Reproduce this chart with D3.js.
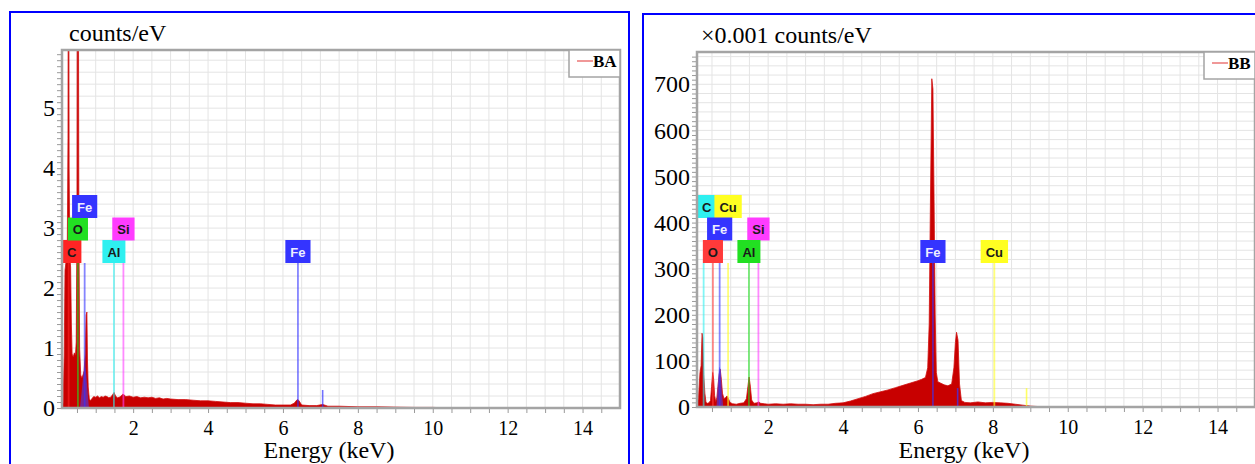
<!DOCTYPE html>
<html>
<head>
<meta charset="utf-8">
<script src="https://cdn.jsdelivr.net/npm/d3@7"></script>
<style>
  body { margin: 0; background: #fff; }
  text { font-family: "Liberation Serif", "Times New Roman", serif; }
</style>
</head>
<body>
<svg id="chart" width="1255" height="464"></svg>
<script>
// ---- data ----
const xTicks = [2, 4, 6, 8, 10, 12, 14];
const baYTicks = [0, 1, 2, 3, 4, 5];
const bbYTicks = [0, 100, 200, 300, 400, 500, 600, 700];

// BA spectrum (counts/eV)
const baEnergy = [0.10, 0.13, 0.16, 0.18, 0.21, 0.24, 0.26, 0.27, 0.28, 0.29, 0.31, 0.33, 0.35, 0.37,
  0.40, 0.43, 0.46, 0.48, 0.50, 0.51, 0.535, 0.55, 0.57, 0.60, 0.63, 0.66, 0.69, 0.72, 0.745, 0.765,
  0.78, 0.80, 0.83, 0.86, 0.90, 0.95, 1.00, 1.05, 1.10, 1.15, 1.20, 1.25, 1.30, 1.35, 1.40, 1.45,
  1.49, 1.53, 1.58, 1.63, 1.68, 1.72, 1.76, 1.80, 1.90, 2.00, 2.10, 2.20, 2.30, 2.40, 2.50, 2.60,
  2.70, 2.80, 2.90, 3.00, 3.20, 3.40, 3.60, 3.80, 4.00, 4.20, 4.40, 4.60, 4.80, 5.00, 5.20, 5.40,
  5.60, 5.80, 6.00, 6.20, 6.30, 6.38, 6.42, 6.50, 6.70, 6.90, 7.06, 7.20, 7.50, 8.00, 8.50, 9.00,
  9.50, 10.00, 10.50, 15.00];
const baCounts = [0.05, 0.08, 0.9, 2.3, 2.45, 2.6, 4.5, 8.5, 8.5, 4.0, 2.5, 2.35, 1.4, 0.9,
  0.85, 0.92, 0.88, 1.1, 3.0, 8.5, 8.5, 3.2, 1.0, 0.55, 0.5, 0.55, 0.62, 0.9, 1.55, 1.6,
  0.8, 0.35, 0.15, 0.12, 0.16, 0.19, 0.18, 0.2, 0.17, 0.19, 0.18, 0.2, 0.19, 0.17, 0.18, 0.22,
  0.26, 0.2, 0.17, 0.18, 0.2, 0.23, 0.22, 0.19, 0.2, 0.18, 0.19, 0.17, 0.18, 0.17, 0.18, 0.16,
  0.17, 0.15, 0.16, 0.15, 0.14, 0.14, 0.13, 0.12, 0.12, 0.11, 0.1, 0.09, 0.09, 0.08, 0.07, 0.07,
  0.06, 0.05, 0.05, 0.05, 0.08, 0.14, 0.13, 0.05, 0.04, 0.04, 0.06, 0.03, 0.03, 0.02, 0.02, 0.015,
  0.01, 0.01, 0, 0];

// BB spectrum (x0.001 counts/eV)
const bbEnergy = [0.10, 0.14, 0.18, 0.21, 0.235, 0.255, 0.28, 0.31, 0.34, 0.38, 0.42, 0.46, 0.49,
  0.52, 0.545, 0.57, 0.60, 0.63, 0.66, 0.69, 0.72, 0.75, 0.78, 0.82, 0.86, 0.90, 0.94, 0.98, 1.05,
  1.15, 1.25, 1.35, 1.42, 1.46, 1.49, 1.52, 1.56, 1.62, 1.70, 1.75, 1.80, 1.90, 2.00, 2.20, 2.40,
  2.60, 2.80, 3.00, 3.20, 3.40, 3.60, 3.80, 4.00, 4.20, 4.40, 4.60, 4.80, 5.00, 5.20, 5.40, 5.60,
  5.80, 6.00, 6.10, 6.20, 6.26, 6.30, 6.33, 6.37, 6.40, 6.43, 6.46, 6.49, 6.53, 6.60, 6.70, 6.80,
  6.90, 6.96, 7.00, 7.03, 7.07, 7.11, 7.16, 7.25, 7.40, 7.60, 7.80, 8.00, 8.20, 8.40, 8.60, 8.80,
  9.00, 9.20, 9.60, 10.00, 15.00];
const bbCounts = [4, 20, 75, 90, 160, 150, 70, 30, 10, 8, 9, 14, 45,
  75, 60, 25, 12, 20, 45, 70, 82, 60, 30, 18, 20, 24, 18, 10, 7,
  6, 8, 9, 18, 45, 65, 48, 15, 8, 9, 11, 8, 7, 6, 7, 6,
  7, 6, 6, 5, 6, 6, 8, 9, 13, 18, 23, 29, 33, 37, 42, 47,
  52, 57, 60, 64, 85, 180, 420, 712, 690, 450, 200, 75, 55, 52, 48, 46,
  50, 85, 140, 162, 145, 50, 14, 10, 9, 11, 9, 10, 9, 8, 6, 4,
  2, 1, 1, 0, 0];

// fitted Fe L overlays
const baFitEnergy = [0.58, 0.63, 0.68, 0.71, 0.74, 0.78, 0.82];
const baFitCounts = [0, 0.3, 0.6, 0.68, 0.6, 0.3, 0];
const bbFitEnergy = [0.62, 0.66, 0.70, 0.73, 0.76, 0.80];
const bbFitCounts = [0, 55, 87, 80, 40, 0];

// element marker lines (label, keV)
const baElements = ['C', 'O', 'Fe', 'Al', 'Si', 'Fe'];
const baLineEnergy = [0.277, 0.525, 0.705, 1.486, 1.740, 6.400];
const bbElements = ['C', 'Cu', 'Fe', 'Si', 'O', 'Al', 'Fe', 'Cu'];
const bbLineEnergy = [0.277, 0.930, 0.705, 1.740, 0.525, 1.486, 6.400, 8.040];

// short K-beta markers
const baKbElements = ['Fe'];
const baKbEnergy = [7.06];
const baKbCounts = [0.3];
const bbKbElements = ['Fe', 'Cu'];
const bbKbEnergy = [7.06, 8.90];
const bbKbCounts = [41, 41];

// ---- layout / style ----
const panels = [
  {
    name: 'BA', box: [10, 12, 619, 470],
    left: 62, top: 50, right: 620, bottom: 408,
    yMax: 5.97, yTicks: baYTicks, yMinor: 0.1, yGrid: 0.2,
    title: 'counts/eV', titleX: 69, titleY: 41,
    energy: baEnergy, counts: baCounts,
    fitE: baFitEnergy, fitC: baFitCounts,
    elements: baElements, lineE: baLineEnergy, rows: [0, 1, 2, 0, 1, 0],
    kbEl: baKbElements, kbE: baKbEnergy, kbC: baKbCounts,
    colors: { C: '#ff2424', O: '#22e022', Fe: '#3434ff', Al: '#2ef0f0', Si: '#ff3cff' }
  },
  {
    name: 'BB', box: [643, 14, 640, 470],
    left: 697, top: 52, right: 1255, bottom: 407,
    yMax: 770, yTicks: bbYTicks, yMinor: 10, yGrid: 20,
    title: '\u00d70.001 counts/eV', titleX: 701, titleY: 43,
    energy: bbEnergy, counts: bbCounts,
    fitE: bbFitEnergy, fitC: bbFitCounts,
    elements: bbElements, lineE: bbLineEnergy, rows: [2, 2, 1, 1, 0, 0, 0, 0],
    kbEl: bbKbElements, kbE: bbKbEnergy, kbC: bbKbCounts,
    colors: { C: '#2ef0f0', O: '#ff3a3a', Fe: '#3434ff', Al: '#22e022', Si: '#ff3cff', Cu: '#ffff22' }
  }
];

const serif = '"Liberation Serif", "Times New Roman", serif';
const svg = d3.select('#chart');
const defs = svg.append('defs');

panels.forEach((p, i) => {
  const g = svg.append('g');

  // outer blue frame
  g.append('rect')
    .attr('x', p.box[0]).attr('y', p.box[1])
    .attr('width', p.box[2]).attr('height', p.box[3])
    .attr('fill', 'none').attr('stroke', '#0000ff').attr('stroke-width', 2);

  const x = d3.scaleLinear().domain([0.1, 15]).range([p.left, p.right]);
  const y = d3.scaleLinear().domain([0, p.yMax]).range([p.bottom, p.top]);

  // grid
  const grid = g.append('g').attr('stroke', '#e4e4e4').attr('stroke-width', 1);
  grid.selectAll('line.v')
    .data(d3.range(0.5, 15, 0.5))
    .join('line')
    .attr('class', 'v')
    .attr('x1', (d) => x(d)).attr('x2', (d) => x(d))
    .attr('y1', p.top).attr('y2', p.bottom);
  grid.selectAll('line.h')
    .data(d3.range(p.yGrid, p.yMax, p.yGrid))
    .join('line')
    .attr('class', 'h')
    .attr('x1', p.left).attr('x2', p.right)
    .attr('y1', (d) => y(d)).attr('y2', (d) => y(d));

  // clip for the marks
  const clipId = 'plotclip' + i;
  defs.append('clipPath').attr('id', clipId)
    .append('rect')
    .attr('x', p.left).attr('y', p.top)
    .attr('width', p.right - p.left).attr('height', p.bottom - p.top);
  const plot = g.append('g').attr('clip-path', `url(#${clipId})`);

  // spectrum
  const area = d3.area()
    .x((d) => x(d[0]))
    .y0(y(0))
    .y1((d) => y(d[1]));
  const pts = p.energy.map((e, k) => [e, p.counts[k]]);
  plot.append('path')
    .datum(pts)
    .attr('d', area)
    .attr('fill', '#c80000')
    .attr('stroke', '#d01010')
    .attr('stroke-width', 0.8);

  // Fe L fitted overlay
  const fit = p.fitE.map((e, k) => [e, p.fitC[k]]);
  plot.append('path')
    .datum(fit)
    .attr('d', area.curve(d3.curveMonotoneX))
    .attr('fill', '#4040ff')
    .attr('fill-opacity', 0.55);

  // element marker lines
  const rowTop = (r) => 240 - 22.5 * r;
  const lineTop = rowTop(0) + 23;
  plot.selectAll('line.mark')
    .data(p.elements)
    .join('line')
    .attr('class', 'mark')
    .attr('x1', (d, k) => x(p.lineE[k])).attr('x2', (d, k) => x(p.lineE[k]))
    .attr('y1', lineTop).attr('y2', y(0))
    .attr('stroke', (d) => p.colors[d])
    .attr('stroke-opacity', 0.6)
    .attr('stroke-width', 1.8);

  // K-beta markers
  plot.selectAll('line.kb')
    .data(p.kbEl)
    .join('line')
    .attr('class', 'kb')
    .attr('x1', (d, k) => x(p.kbE[k])).attr('x2', (d, k) => x(p.kbE[k]))
    .attr('y1', (d, k) => y(p.kbC[k])).attr('y2', y(0))
    .attr('stroke', (d) => p.colors[d])
    .attr('stroke-opacity', 0.7)
    .attr('stroke-width', 1.6);

  // element labels
  p.elements.forEach((el, k) => {
    const lg = g.append('g');
    const t = lg.append('text')
      .attr('y', rowTop(p.rows[k]) + 16.5)
      .attr('text-anchor', 'middle')
      .style('font-family', '"Liberation Sans", Arial, sans-serif')
      .style('font-size', '13px')
      .style('font-weight', 'bold')
      .attr('fill', el === 'Fe' ? '#eeeeff' : '#1a1a1a')
      .text(el);
    const w = Math.max(17, t.node().getComputedTextLength() + 10);
    const bx = Math.max(p.left, x(p.lineE[k]) - w / 2);
    t.attr('x', bx + w / 2);
    lg.insert('rect', 'text')
      .attr('x', bx).attr('y', rowTop(p.rows[k]))
      .attr('width', w).attr('height', 23)
      .attr('fill', p.colors[el]);
  });

  // plot frame
  g.append('rect')
    .attr('x', p.left).attr('y', p.top)
    .attr('width', p.right - p.left).attr('height', p.bottom - p.top)
    .attr('fill', 'none').attr('stroke', '#a4a4a4').attr('stroke-width', 2.5);

  // minor ticks
  const yMinorAxis = d3.axisLeft(y)
    .tickValues(d3.range(0, p.yMax, p.yMinor))
    .tickSize(4)
    .tickFormat('');
  const ym = g.append('g').attr('transform', `translate(${p.left - 1},0)`).call(yMinorAxis);
  ym.select('.domain').remove();
  ym.selectAll('line').attr('stroke', '#9a9a9a');

  const xMinorAxis = d3.axisBottom(x)
    .tickValues(d3.range(0.5, 15, 0.5))
    .tickSize(4)
    .tickFormat('');
  const xm = g.append('g').attr('transform', `translate(0,${p.bottom + 1})`).call(xMinorAxis);
  xm.select('.domain').remove();
  xm.selectAll('line').attr('stroke', '#9a9a9a');

  // tick labels
  const yAxis = d3.axisLeft(y).tickValues(p.yTicks).tickFormat(d3.format('d'))
    .tickSize(0).tickPadding(7);
  const ya = g.append('g').attr('transform', `translate(${p.left},0)`).call(yAxis);
  ya.attr('font-family', null).attr('font-size', null);
  ya.select('.domain').remove();
  ya.selectAll('text')
    .style('font-family', serif)
    .style('font-size', '24px')
    .attr('fill', '#000');

  const xAxis = d3.axisBottom(x).tickValues(xTicks).tickFormat(d3.format('d'))
    .tickSize(0).tickPadding(13);
  const xa = g.append('g').attr('transform', `translate(0,${p.bottom})`).call(xAxis);
  xa.attr('font-family', null).attr('font-size', null);
  xa.select('.domain').remove();
  xa.selectAll('text')
    .style('font-family', serif)
    .style('font-size', '20px')
    .attr('fill', '#000');

  // axis titles
  g.append('text')
    .attr('x', p.titleX).attr('y', p.titleY)
    .style('font-size', '24px')
    .text(p.title);
  g.append('text')
    .attr('x', (p.left + p.right) / 2 - 12).attr('y', 458)
    .attr('text-anchor', 'middle')
    .style('font-size', '24px')
    .text('Energy (keV)');

  // legend
  const lx = p.right - 51;
  const leg = g.append('g');
  leg.append('rect')
    .attr('x', lx).attr('y', p.top)
    .attr('width', 51).attr('height', 27)
    .attr('fill', '#fff').attr('stroke', '#a4a4a4').attr('stroke-width', 1.5);
  leg.append('line')
    .attr('x1', lx + 8).attr('x2', lx + 24)
    .attr('y1', p.top + 11).attr('y2', p.top + 11)
    .attr('stroke', '#f09898').attr('stroke-width', 2);
  leg.append('text')
    .attr('x', lx + 24).attr('y', p.top + 17)
    .style('font-size', '17px')
    .style('font-weight', 'bold')
    .text(p.name);
});
</script>
</body>
</html>
